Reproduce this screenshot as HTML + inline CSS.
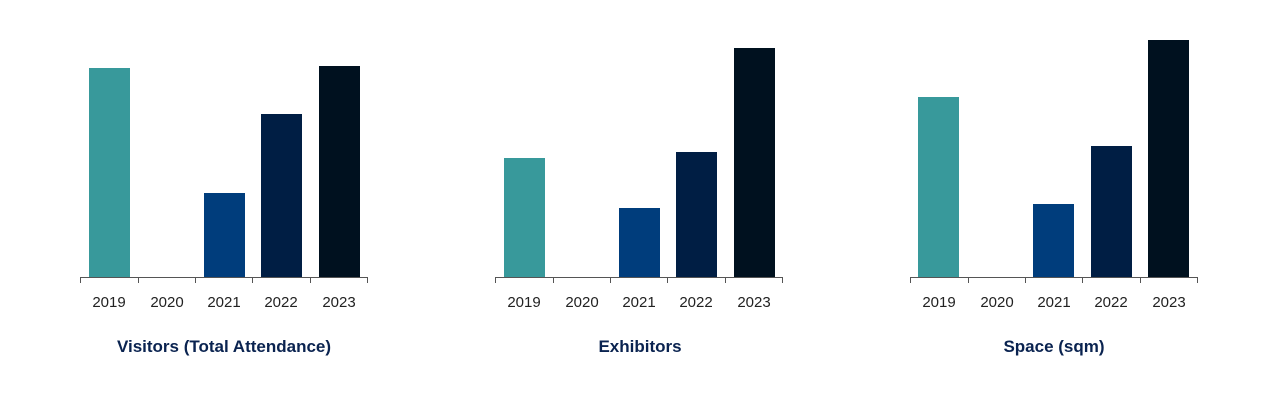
<!DOCTYPE html>
<html><head><style>
body{margin:0;background:#fff;width:1280px;height:400px;overflow:hidden}
text{font-family:"Liberation Sans","DejaVu Sans",sans-serif}
</style></head><body>
<svg width="1280" height="400" xmlns="http://www.w3.org/2000/svg">
<g>
<rect x="89" y="68" width="41" height="209" fill="#38999b"/>
<rect x="204" y="193" width="41" height="84" fill="#003d7c"/>
<rect x="261" y="114" width="41" height="163" fill="#001e44"/>
<rect x="319" y="66" width="41" height="211" fill="#00111f"/>
</g>
<g>
<rect x="504" y="158" width="41" height="119" fill="#38999b"/>
<rect x="619" y="208" width="41" height="69" fill="#003d7c"/>
<rect x="676" y="152" width="41" height="125" fill="#001e44"/>
<rect x="734" y="48" width="41" height="229" fill="#00111f"/>
</g>
<g>
<rect x="918" y="97" width="41" height="180" fill="#38999b"/>
<rect x="1033" y="204" width="41" height="73" fill="#003d7c"/>
<rect x="1091" y="146" width="41" height="131" fill="#001e44"/>
<rect x="1148" y="40" width="41" height="237" fill="#00111f"/>
</g>
<g stroke="#555" stroke-width="1" fill="none">
<path d="M80.5 277.5H367.5M80.5 277v6M138.5 277v6M195.5 277v6M252.5 277v6M310.5 277v6M367.5 277v6"/>
<path d="M495.5 277.5H782.5M495.5 277v6M553.5 277v6M610.5 277v6M667.5 277v6M725.5 277v6M782.5 277v6"/>
<path d="M910.5 277.5H1197.5M910.5 277v6M968.5 277v6M1025.5 277v6M1082.5 277v6M1140.5 277v6M1197.5 277v6"/>
</g>
<g font-size="15" fill="#222" text-anchor="middle">
<text x="109" y="307">2019</text><text x="167" y="307">2020</text><text x="224" y="307">2021</text><text x="281" y="307">2022</text><text x="339" y="307">2023</text>
<text x="524" y="307">2019</text><text x="582" y="307">2020</text><text x="639" y="307">2021</text><text x="696" y="307">2022</text><text x="754" y="307">2023</text>
<text x="939" y="307">2019</text><text x="997" y="307">2020</text><text x="1054" y="307">2021</text><text x="1111" y="307">2022</text><text x="1169" y="307">2023</text>
</g>
<g font-size="17" font-weight="bold" fill="#0a2350" text-anchor="middle">
<text x="224" y="352">Visitors (Total Attendance)</text>
<text x="640" y="352">Exhibitors</text>
<text x="1054" y="352">Space (sqm)</text>
</g>
</svg>
</body></html>
